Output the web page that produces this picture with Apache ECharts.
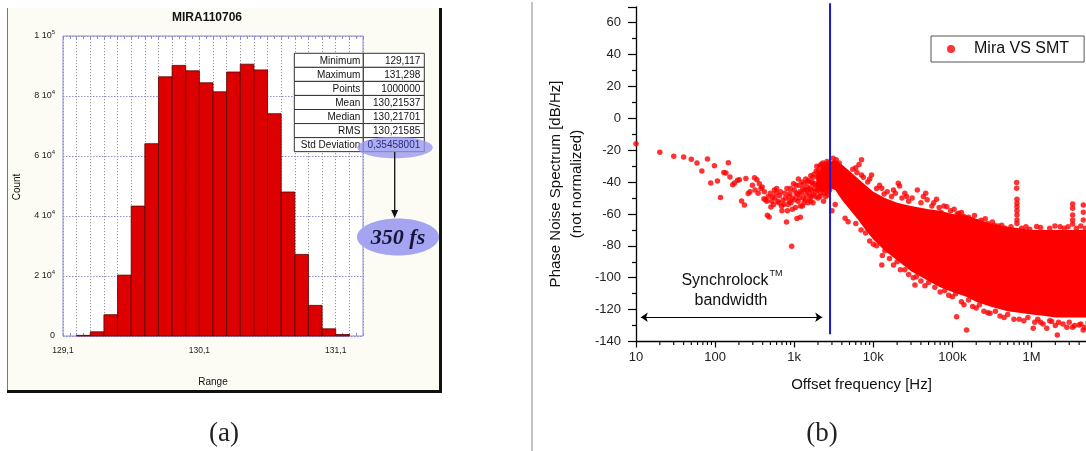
<!DOCTYPE html>
<html><head><meta charset="utf-8">
<script src="https://cdn.jsdelivr.net/npm/echarts@6/dist/echarts.min.js"></script>
<style>html,body{margin:0;padding:0;background:#fff}#c{width:1086px;height:451px}</style>
</head><body><div id="c"></div>
<script>
// ---------- Panel (a): histogram ----------
const histTitle = 'MIRA110706';
const histBinEdges = [129.2,129.3,129.4,129.5,129.6,129.7,129.8,129.9,130.0,130.1,130.2,130.3,130.4,130.5,130.6,130.7,130.8,130.9,131.0,131.1,131.2];
const histCounts = [200,1400,7100,20300,43300,64100,86400,90200,88400,84400,81400,88000,90600,88700,74100,48000,27200,10200,2400,500];
const histYLabels = {0:'0', 20000:'2 10|4', 40000:'4 10|4', 60000:'6 10|4', 80000:'8 10|4', 100000:'1 10|5'};
const statLabels = ['Minimum','Maximum','Points','Mean','Median','RMS','Std Deviation'];
const statValues = ['129,117','131,298','1000000','130,21537','130,21701','130,21585','0,35458001'];
const jitterText = '350 fs';

// ---------- Panel (b): phase noise ----------
const seriesName = 'Mira VS SMT';
const freqTickLabels = {10:'10',100:'100',1000:'1k',10000:'10k',100000:'100k',1000000:'1M',10000000:'10M'};
const lockFreq = 2840;
const lockLineTop = 72.2, lockLineBottom = -135.5;
const arrowFrom = [11.5, -124.8], arrowTo = [2260, -124.8];
// dense band envelope
const bandFreq  = [1900,2200,2600,2900,3300,4000,5000,6500,8000,10000,14000,20000,30000,50000,70000,100000,150000,200000,300000,500000,700000,1000000,1500000,2000000,3000000,5000000,8000000];
const bandUpper = [-36,-32,-29,-27,-26,-29,-33,-38,-42,-46,-50,-53,-55,-57,-58,-60,-61,-63,-66,-68,-69,-70,-70,-70,-70,-70,-70];
const bandLower = [-45,-46,-45,-44,-45,-51,-57,-64,-70,-76,-83,-89,-96,-102,-106,-109,-112,-115,-118,-121,-122,-123,-124,-125,-125,-125,-125];
// individual points
const lowFreqPoints = [[10,-15.9],[20,-21.3],[30,-23.8],[40,-24.2],[50,-25.7],[59,-28.0],[68,-33.0],[80,-25.5],[88,-40.5],[98,-29.7],[107,-39.3],[117,-49.7],[129,-33.9],[137,-34.3],[147,-27.8],[154,-36.8],[167,-41.6],[176,-40.5],[192,-38.9],[203,-38.5],[216,-51.8],[235,-54.3],[245,-37.8],[262,-47.2],[276,-46.0],[296,-42.0],[315,-37.2],[338,-38.5],[363,-41.0],[394,-43.0],[414,-50.5],[436,-51.0],[458,-60.8],[482,-61.9],[507,-55.6],[533,-49.3],[561,-45.0],[590,-47.0],[620,-52],[653,-48.5],[690,-55],[722,-51.4],[760,-47],[799,-65.0],[840,-54],[884,-47.2],[929,-80.3],[960,-50],[1000,-45],[1040,-56],[1082,-62.9],[1100,-48],[1150,-42],[1197,-62.0],[1200,-55],[1250,-40],[1300,-50],[1350,-45],[1400,-38],[1466,-43],[1500,-53],[1550,-47],[1600,-52],[1622,-36],[1700,-41],[1750,-48],[1795,-44],[1900,-33],[1986,-37],[2000,-50],[2100,-30],[2198,-40],[2300,-28],[2350,-52],[2432,-45],[2500,-49],[2550,-33],[2600,-27],[2691,-48],[2750,-38],[3000,-58],[3300,-54],
[320,-45],[350,-47],[380,-44],[420,-46],[450,-52],[470,-49],[500,-47],[520,-52],[550,-54],[570,-50],[600,-44],[640,-53],[670,-46],[700,-58],[740,-54],[780,-50],[820,-58],[870,-52],[900,-44],[950,-57],
[1050,-42],[1120,-52],[1180,-46],[1280,-44],[1330,-53],[1420,-48],[1480,-40],[1580,-44],[1650,-49],[1720,-37],[1850,-46],[1950,-42],[2050,-35],[2150,-47],[2250,-33],[2400,-31],[2480,-38],[2650,-44],
[1520,-39],[1580,-50],[1630,-45],[1680,-40],[1730,-53],[1780,-35],[1820,-41],[1880,-49],[1930,-30],[1980,-45],[2020,-33],[2080,-42],[2120,-49],[2180,-29],[2230,-37],[2280,-44],[2330,-31],[2380,-47],[2420,-29],[2460,-41],[2520,-36],[2570,-46],[2620,-30],[2680,-40],[2720,-28],[2780,-34],[2800,-45],
[810,-44],[860,-49],[910,-53],[980,-41],[1010,-51],[1060,-47],[1130,-38],[1160,-50],[1230,-47],[1270,-55],[1320,-41],[1380,-51],[1440,-45]];
const upperEdgePoints = [[3100,-25],[3400,-26],[3700,-28],[6000,-31],[6600,-29],[7100,-26],[7100,-35.5],[9500,-35.5],[12800,-43.9],[13700,-47.4],[20700,-40.7],[21500,-42.5],[19000,-47],[26400,-49.1],[36000,-44.9],[43000,-49],[46000,-47],[63000,-50.8],[72000,-59],[74000,-60.5],[85000,-55.4],[120000,-59.5],[140000,-61.5],[170000,-63.5],[210000,-65],[260000,-63],[340000,-67],[380000,-67.5],[1160000,-67.9],[1980000,-67.5],
[649000,-40.3],[649000,-43.9],[655000,-50.8],[655000,-53.3],[655000,-55.5],[655000,-58],[655000,-60.6],[655000,-63.8],[655000,-66],
[3310000,-53.7],[3310000,-56.4],[3310000,-60.6],[3310000,-63.8],[3310000,-66.3],[4520000,-54.3],[4520000,-58.9],[4520000,-63.8],
[5500,-32],[6200,-34],[7500,-37],[8500,-40],[9000,-38],[11000,-44],[12000,-42],[15000,-46],[17000,-49],[18000,-45],[23000,-50],[25000,-47],[28000,-52],[31000,-50],[40000,-53],[48000,-51],[55000,-55],[58000,-53],[68000,-56],[78000,-55],[95000,-58],[105000,-57],[115000,-60],[130000,-59],[160000,-62],[190000,-61],[230000,-64],[280000,-66],[320000,-65],[420000,-67],[460000,-69],[550000,-68],[750000,-69],[850000,-68],[950000,-69.5],[1300000,-68.5],[1700000,-69],[2300000,-68],[2600000,-69],[2900000,-68],[3700000,-69],[4200000,-67.5],[4800000,-69]];
const lowerEdgePoints = [[4400,-62.7],[4800,-64.8],[12800,-92],[33600,-104.5],[35000,-99.3],[113000,-124.4],[151000,-132.8],[299000,-122.3],[1050000,-131.7],[1560000,-131.7],[2120000,-135.9],[1800000,-127.5],[4000000,-129.6],[4500000,-132.8],
[8000,-72],[11000,-80],[16000,-88],[25000,-95],[40000,-102],[60000,-106],[90000,-111],[130000,-115],[180000,-118],[250000,-121],[400000,-124],[600000,-126],[800000,-127],[1300000,-128],[2500000,-129],[3500000,-130],[6000000,-128],
[6000,-66],[7000,-70],[9000,-77],[10000,-79],[13000,-86],[14000,-83],[18000,-92],[20000,-90],[22000,-95],[28000,-98],[32000,-100],[45000,-105],[50000,-103],[70000,-109],[80000,-108],[100000,-112],[110000,-110],[140000,-117],[160000,-114],[200000,-119],[220000,-117],[280000,-122],[350000,-121],[450000,-125],[500000,-123],[700000,-126],[900000,-125],[1100000,-128],[1200000,-126],[1400000,-129],[1700000,-127],[2000000,-130],[2200000,-128],[2800000,-131],[3000000,-128],[3300000,-131],[4200000,-129],[4700000,-131],[5200000,-128]];

const minorTickVals = [];
[10,100,1000,10000,100000,1000000].forEach(d => { for (let m = 2; m <= 9; m++) minorTickVals.push(d * m); });

const SANS = 'Liberation Sans, Arial, sans-serif';
const chart = echarts.init(document.getElementById('c'), null, {renderer: 'canvas'});

function txt(x, y, text, size, opts) {
  opts = opts || {};
  return Object.assign({type: 'text', x: x, y: y, z: opts.z || 50, rotation: opts.rotation || 0,
    style: {text: text, fill: opts.color || '#111', font: (opts.fontStyle || '') + ' ' + (opts.weight || 'normal') + ' ' + size + 'px ' + (opts.family || SANS),
      textAlign: opts.align || 'center', textVerticalAlign: 'middle', align: opts.align || 'center', verticalAlign: 'middle'}});
}

const graphics = [];
graphics.push({type: 'rect', z: -5, shape: {x: 7, y: 8, width: 434, height: 384}, style: {fill: '#fcfcf4'}});
graphics.push({type: 'line', z: 5, shape: {x1: 7.5, y1: 8, x2: 7.5, y2: 392}, style: {stroke: '#777', lineWidth: 1}});
graphics.push({type: 'line', z: 5, shape: {x1: 7, y1: 391.5, x2: 442, y2: 391.5}, style: {stroke: '#111', lineWidth: 3}});
graphics.push({type: 'line', z: 5, shape: {x1: 440.5, y1: 8, x2: 440.5, y2: 393}, style: {stroke: '#111', lineWidth: 3}});
graphics.push({type: 'line', z: 5, shape: {x1: 532, y1: 2, x2: 532, y2: 451}, style: {stroke: '#888', lineWidth: 1}});
graphics.push(txt(207, 18, histTitle, 12, {weight: 'bold'}));
graphics.push(txt(17, 187, 'Count', 10, {rotation: Math.PI / 2}));
graphics.push(txt(213, 382, 'Range', 10));
const tX0 = 294.3, tX1 = 363.3, tX2 = 424.3, tY0 = 53.3, rowH = 14.05;
statLabels.forEach((lab, i) => {
  const y = tY0 + i * rowH;
  graphics.push({type: 'rect', z: 60, shape: {x: tX0, y: y, width: tX1 - tX0, height: rowH}, style: {fill: '#fff', stroke: '#333', lineWidth: 1}});
  graphics.push({type: 'rect', z: 60, shape: {x: tX1, y: y, width: tX2 - tX1, height: rowH}, style: {fill: '#fff', stroke: '#333', lineWidth: 1}});
  graphics.push(txt(tX1 - 3, y + rowH / 2 + 0.5, lab, 10, {align: 'right', z: 62}));
  graphics.push(txt(tX2 - 4, y + rowH / 2 + 0.5, statValues[i], 10, {align: 'right', z: 66, color: i === statLabels.length - 1 ? '#2d2d80' : '#111'}));
});
graphics.push({type: 'ellipse', z: 64, shape: {cx: 395, cy: 147.5, rx: 37.7, ry: 10.8}, style: {fill: 'rgba(150,150,238,0.78)'}});
graphics.push({type: 'line', z: 64, shape: {x1: 394.7, y1: 152, x2: 394.7, y2: 212}, style: {stroke: '#111', lineWidth: 1.3}});
graphics.push({type: 'polygon', z: 64, shape: {points: [[391.2, 210], [398.2, 210], [394.7, 218]]}, style: {fill: '#111'}});
graphics.push({type: 'ellipse', z: 64, shape: {cx: 398, cy: 237, rx: 41, ry: 18.5}, style: {fill: '#a4a4f0'}});
graphics.push(txt(398, 238, jitterText, 22, {weight: 'bold', fontStyle: 'italic', family: 'Liberation Serif, DejaVu Serif, serif', color: '#15153a', z: 66}));
graphics.push(txt(224, 434, '(a)', 27, {family: 'Liberation Serif, DejaVu Serif, serif', color: '#222'}));
graphics.push(txt(822, 434, '(b)', 27, {family: 'Liberation Serif, DejaVu Serif, serif', color: '#222'}));
graphics.push(txt(555.6, 184, 'Phase Noise Spectrum [dB/Hz]', 15, {rotation: Math.PI / 2}));
graphics.push(txt(576.5, 184, '(not normalized)', 15, {rotation: Math.PI / 2}));
graphics.push(txt(861.5, 385, 'Offset frequency [Hz]', 15));
graphics.push(txt(725, 281, 'Synchrolock', 16));
graphics.push(txt(769.5, 274, 'TM', 9, {align: 'left'}));
graphics.push(txt(731, 301, 'bandwidth', 16));

const option = {
  animation: false,
  backgroundColor: '#ffffff',
  graphic: graphics,
  legend: {
    data: [{name: seriesName, icon: 'circle'}], left: 931, top: 36, orient: 'horizontal',
    padding: [5, 15, 5, 16], borderColor: '#555', borderWidth: 1, backgroundColor: '#fff',
    itemWidth: 8, itemHeight: 8, itemGap: 0,
    textStyle: {fontSize: 16, fontFamily: SANS, color: '#111', padding: [0, 0, 0, 14]}
  },
  grid: [
    {left: 63, top: 36, width: 300, height: 300, show: true, backgroundColor: '#fff', borderColor: '#8c8cd8', borderWidth: 1, outerBoundsMode: 'none', containLabel: false},
    {left: 636, top: 6.8, width: 474.6, height: 334.7, outerBoundsMode: 'none', containLabel: false}
  ],
  xAxis: [
    {type: 'value', gridIndex: 0, min: 129.1, max: 131.3, interval: 0.1,
      axisLine: {show: false},
      axisTick: {show: true, inside: true, length: 3, lineStyle: {color: '#8c8cd8'}},
      minorTick: {show: true, splitNumber: 2, length: 3, lineStyle: {color: '#8c8cd8'}},
      axisLabel: {margin: 10, fontSize: 8.5, fontFamily: SANS, color: '#222',
        formatter: (v, i) => (i % 10 === 0 && v < 131.2) ? v.toFixed(1).replace('.', ',') : ''},
      splitLine: {show: true, lineStyle: {color: '#959595', type: [1.2, 1.8], width: 1}}},
    {type: 'value', gridIndex: 0, position: 'top', min: 129.1, max: 131.3, interval: 0.1,
      axisLine: {show: false}, axisLabel: {show: false}, splitLine: {show: false},
      axisTick: {show: true, inside: true, length: 3, lineStyle: {color: '#8c8cd8'}},
      minorTick: {show: true, splitNumber: 2, length: 3, lineStyle: {color: '#8c8cd8'}}},
    {type: 'log', gridIndex: 1, min: 10, max: 10000000, logBase: 10,
      axisLine: {show: true, onZero: false, lineStyle: {color: '#000', width: 1.3}},
      axisTick: {show: true, inside: false, length: 6, lineStyle: {color: '#000', width: 1.2}},
      axisLabel: {margin: 9, fontSize: 13, fontFamily: SANS, color: '#222', formatter: v => freqTickLabels[Math.round(v)] || ''},
      splitLine: {show: false}}
  ],
  yAxis: [
    {type: 'value', gridIndex: 0, min: 0, max: 100000, interval: 20000,
      axisLine: {show: false}, axisTick: {show: false},
      axisLabel: {margin: 8, fontFamily: SANS, color: '#222',
        formatter: v => { const s = histYLabels[v]; if (!s) return ''; const p = s.split('|'); return p.length > 1 ? '{m|' + p[0] + '}{s|' + p[1] + '}' : '{m|' + p[0] + '}'; },
        rich: {m: {fontSize: 9, fontFamily: SANS, color: '#222'}, s: {fontSize: 6, fontFamily: SANS, color: '#222', padding: [0, 0, 7, 0]}}},
      splitLine: {show: true, lineStyle: {color: '#9090cc', type: [1.5, 1.5], width: 1}}},
    {type: 'value', gridIndex: 1, min: -140, max: 70, interval: 20,
      axisLine: {show: true, onZero: false, lineStyle: {color: '#000', width: 1.3}},
      axisTick: {show: true, inside: false, length: 8, lineStyle: {color: '#000', width: 1.2}},
      minorTick: {show: true, splitNumber: 2, length: 4, lineStyle: {color: '#000', width: 1.2}},
      axisLabel: {margin: 15, fontSize: 13, fontFamily: SANS, color: '#222', formatter: v => v > 60 ? '' : String(v)},
      splitLine: {show: false}}
  ],
  series: [
    {type: 'custom', name: 'hist', xAxisIndex: 0, yAxisIndex: 0, clip: false, z: 3,
      data: histCounts.map((c, i) => [histBinEdges[i], histBinEdges[i + 1], c]),
      renderItem: (params, api) => {
        const p0 = api.coord([api.value(0), api.value(2)]);
        const p1 = api.coord([api.value(1), 0]);
        return {type: 'rect', shape: {x: p0[0], y: p0[1], width: p1[0] - p0[0], height: p1[1] - p0[1]},
          style: {fill: '#dd0000', stroke: '#5a0000', lineWidth: 0.8}};
      }},
    {type: 'custom', name: 'band', xAxisIndex: 2, yAxisIndex: 1, clip: false, z: 2,
      data: [[bandFreq[0], bandUpper[0]]],
      renderItem: (params, api) => {
        const pts = [];
        for (let i = 0; i < bandFreq.length; i++) pts.push(api.coord([bandFreq[i], bandUpper[i]]));
        for (let i = bandFreq.length - 1; i >= 0; i--) pts.push(api.coord([bandFreq[i], bandLower[i]]));
        return {type: 'polygon', shape: {points: pts}, style: {fill: '#ff0000'}};
      }},
    {type: 'scatter', name: seriesName, xAxisIndex: 2, yAxisIndex: 1, symbol: 'circle', symbolSize: 5.5,
      itemStyle: {color: '#ff0000'}, z: 3, clip: false,
      data: lowFreqPoints.concat(upperEdgePoints, lowerEdgePoints)},
    {type: 'line', name: 'lock', xAxisIndex: 2, yAxisIndex: 1, showSymbol: false, symbol: 'none', clip: false, z: 6,
      data: [[lockFreq, lockLineTop], [lockFreq, lockLineBottom]], lineStyle: {color: '#1818c8', width: 2}},
    {type: 'lines', name: 'bw', coordinateSystem: 'cartesian2d', xAxisIndex: 2, yAxisIndex: 1, z: 6,
      symbol: ['arrow', 'arrow'], symbolSize: [7, 7],
      lineStyle: {color: '#000', width: 1, opacity: 1},
      data: [{coords: [arrowFrom, arrowTo]}]},
    {type: 'custom', name: 'minorTicks', xAxisIndex: 2, yAxisIndex: 1, clip: false, z: 6,
      data: minorTickVals.map(v => [v, -140]),
      renderItem: (params, api) => {
        const p = api.coord([api.value(0), -140]);
        return {type: 'line', shape: {x1: p[0], y1: p[1], x2: p[0], y2: p[1] + 3.5}, style: {stroke: '#000', lineWidth: 1.1}};
      }}
  ]
};
chart.setOption(option);
</script></body></html>
